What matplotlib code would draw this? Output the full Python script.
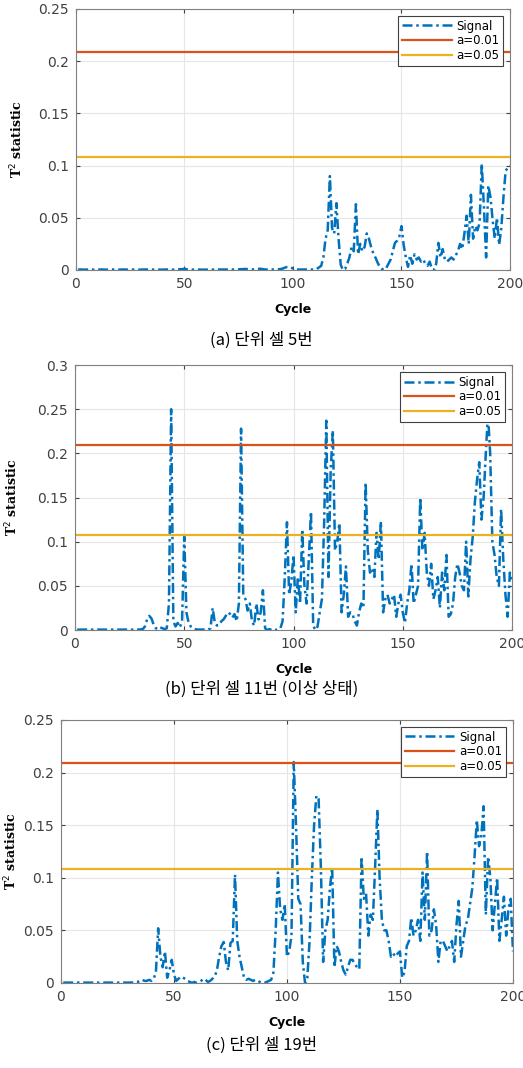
import numpy as np
import matplotlib
matplotlib.use('Agg')
from matplotlib import pyplot as plt
from matplotlib.ticker import FuncFormatter

plt.rcParams['font.family'] = ['DejaVu Sans']

cycles = np.arange(1, 201)

# panel (a) - unit cell 5
t2_a = [
    0.0004, 0.0005, 0.0004, 0.0003, 0.0004, 0.0005, 0.0004, 0.0004, 0.0003, 0.0004,
    0.0004, 0.0005, 0.0004, 0.0003, 0.0004, 0.0004, 0.0005, 0.0004, 0.0003, 0.0004,
    0.0004, 0.0005, 0.0004, 0.0003, 0.0004, 0.0004, 0.0005, 0.0004, 0.0003, 0.0004,
    0.0004, 0.0005, 0.0004, 0.0003, 0.0004, 0.0004, 0.0005, 0.0004, 0.0003, 0.0004,
    0.0004, 0.0005, 0.0004, 0.0003, 0.0004, 0.0004, 0.0005, 0.0006, 0.0008, 0.0012,
    0.0006, 0.0004, 0.0003, 0.0004, 0.0004, 0.0005, 0.0004, 0.0003, 0.0004, 0.0004,
    0.0004, 0.0005, 0.0004, 0.0003, 0.0004, 0.0004, 0.0005, 0.0004, 0.0003, 0.0004,
    0.0004, 0.0005, 0.0004, 0.0005, 0.0006, 0.0007, 0.0008, 0.0010, 0.0008, 0.0006,
    0.0005, 0.0006, 0.0008, 0.0010, 0.0012, 0.0008, 0.0005, 0.0004, 0.0004, 0.0005,
    0.0004, 0.0005, 0.0006, 0.0008, 0.0012, 0.0020, 0.0028, 0.0030, 0.0024, 0.0015,
    0.0008, 0.0005, 0.0004, 0.0004, 0.0005, 0.0004, 0.0004, 0.0005, 0.0004, 0.0006,
    0.0010, 0.0025, 0.004, 0.012, 0.030, 0.038, 0.090, 0.040, 0.035, 0.064,
    0.030, 0.005, 0.000, 0.001, 0.006, 0.012, 0.022, 0.018, 0.063, 0.015,
    0.025, 0.018, 0.022, 0.035, 0.030, 0.022, 0.016, 0.012, 0.007, 0.003,
    0.001, 0.000, 0.002, 0.006, 0.010, 0.018, 0.026, 0.028, 0.032, 0.042,
    0.024, 0.012, 0.003, 0.014, 0.006, 0.015, 0.010, 0.012, 0.008, 0.010,
    0.006, 0.004, 0.008, 0.001, 0.000, 0.006, 0.026, 0.012, 0.020, 0.010,
    0.008, 0.010, 0.012, 0.010, 0.014, 0.018, 0.025, 0.020, 0.035, 0.052,
    0.025, 0.072, 0.030, 0.042, 0.038, 0.045, 0.102, 0.060, 0.012, 0.081,
    0.070, 0.048, 0.030, 0.050, 0.024, 0.040, 0.070, 0.095, 0.098, 0.100,
]

# panel (b) - unit cell 11 (abnormal)
t2_b = [
    0.0005, 0.0004, 0.0005, 0.0004, 0.0005, 0.0004, 0.0005, 0.0004, 0.0005, 0.0004,
    0.0005, 0.0004, 0.0005, 0.0004, 0.0005, 0.0004, 0.0005, 0.0004, 0.0005, 0.0004,
    0.0005, 0.0004, 0.0005, 0.0004, 0.0005, 0.0004, 0.0005, 0.0004, 0.0005, 0.0006,
    0.001, 0.004, 0.012, 0.016, 0.013, 0.006, 0.002, 0.001, 0.003, 0.002,
    0.001, 0.002, 0.030, 0.250, 0.010, 0.004, 0.008, 0.003, 0.010, 0.106,
    0.020, 0.008, 0.004, 0.002, 0.001, 0.0005, 0.0005, 0.0005, 0.0005, 0.0005,
    0.0005, 0.002, 0.025, 0.008, 0.005, 0.006, 0.010, 0.012, 0.016, 0.020,
    0.018, 0.014, 0.018, 0.010, 0.030, 0.228, 0.040, 0.035, 0.022, 0.030,
    0.010, 0.005, 0.030, 0.012, 0.020, 0.045, 0.002, 0.000, 0.001, 0.000,
    0.001, 0.000, 0.001, 0.002, 0.010, 0.060, 0.122, 0.040, 0.055, 0.085,
    0.020, 0.060, 0.030, 0.114, 0.050, 0.030, 0.080, 0.134, 0.005, 0.000,
    0.004, 0.020, 0.035, 0.120, 0.237, 0.060, 0.180, 0.226, 0.090, 0.100,
    0.121, 0.020, 0.040, 0.072, 0.015, 0.020, 0.018, 0.010, 0.005, 0.020,
    0.030, 0.025, 0.167, 0.090, 0.065, 0.070, 0.060, 0.110, 0.080, 0.123,
    0.020, 0.035, 0.040, 0.030, 0.035, 0.040, 0.015, 0.030, 0.040, 0.020,
    0.008, 0.030, 0.045, 0.075, 0.030, 0.040, 0.050, 0.150, 0.090, 0.110,
    0.065, 0.050, 0.075, 0.035, 0.045, 0.060, 0.025, 0.065, 0.045, 0.085,
    0.015, 0.018, 0.030, 0.060, 0.075, 0.065, 0.050, 0.045, 0.100, 0.038,
    0.080, 0.105, 0.145, 0.170, 0.190, 0.125, 0.150, 0.200, 0.245, 0.200,
    0.100, 0.085, 0.060, 0.050, 0.137, 0.080, 0.040, 0.015, 0.065, 0.055,
]

# panel (c) - unit cell 19
t2_c = [
    0.0003, 0.0004, 0.0003, 0.0004, 0.0003, 0.0004, 0.0003, 0.0004, 0.0003, 0.0004,
    0.0003, 0.0004, 0.0003, 0.0004, 0.0003, 0.0004, 0.0003, 0.0004, 0.0003, 0.0004,
    0.0003, 0.0004, 0.0003, 0.0004, 0.0003, 0.0004, 0.0003, 0.0004, 0.0003, 0.0004,
    0.0005, 0.0005, 0.001, 0.001, 0.002, 0.003, 0.002, 0.002, 0.003, 0.002,
    0.004, 0.010, 0.052, 0.025, 0.015, 0.030, 0.005, 0.012, 0.022, 0.008,
    0.002, 0.004, 0.006, 0.005, 0.004, 0.002, 0.001, 0.000, 0.001, 0.000,
    0.001, 0.002, 0.004, 0.003, 0.001, 0.002, 0.004, 0.006, 0.012, 0.025,
    0.035, 0.039, 0.020, 0.012, 0.038, 0.040, 0.103, 0.040, 0.025, 0.015,
    0.005, 0.003, 0.004, 0.003, 0.002, 0.003, 0.002, 0.001, 0.000, 0.000,
    0.001, 0.002, 0.003, 0.010, 0.050, 0.105, 0.070, 0.060, 0.075, 0.025,
    0.030, 0.045, 0.210, 0.150, 0.080, 0.075, 0.020, 0.000, 0.005, 0.040,
    0.100, 0.150, 0.178, 0.175, 0.110, 0.020, 0.050, 0.060, 0.090, 0.110,
    0.015, 0.035, 0.030, 0.020, 0.012, 0.008, 0.015, 0.022, 0.022, 0.018,
    0.015, 0.013, 0.120, 0.080, 0.085, 0.045, 0.065, 0.060, 0.110, 0.165,
    0.100, 0.060, 0.050, 0.050, 0.040, 0.025, 0.028, 0.025, 0.028, 0.030,
    0.005, 0.010, 0.035, 0.040, 0.062, 0.045, 0.050, 0.060, 0.040, 0.105,
    0.060, 0.125, 0.045, 0.050, 0.070, 0.055, 0.020, 0.040, 0.040, 0.035,
    0.030, 0.035, 0.040, 0.020, 0.055, 0.078, 0.025, 0.040, 0.055, 0.060,
    0.075, 0.090, 0.120, 0.155, 0.130, 0.140, 0.168, 0.065, 0.120, 0.100,
    0.050, 0.075, 0.100, 0.040, 0.060, 0.082, 0.045, 0.070, 0.080, 0.030,
]

limit_01 = 0.209
limit_05 = 0.108

panels = [
    (t2_a, 0.25, np.arange(0, 0.26, 0.05), '(a) 단위 셀 5번'),
    (t2_b, 0.30, np.arange(0, 0.31, 0.05), '(b) 단위 셀 11번 (이상 상태)'),
    (t2_c, 0.25, np.arange(0, 0.26, 0.05), '(c) 단위 셀 19번'),
]
# axes rectangles (fig fraction), caption y, ylabel x (axes coords)
rects = [[0.1453, 0.7472, 0.8298, 0.2444],
         [0.1434, 0.4101, 0.8356, 0.2481],
         [0.1166, 0.0796, 0.8642, 0.2463]]
cap_y = [0.6810, 0.3545, 0.0215]
ylab_x = [-0.117, -0.126, -0.093]

blue = '#0072BD'
red = '#D95319'
yellow = '#EDB120'

fig = plt.figure(figsize=(5.23, 10.68), dpi=100)
for (vals, ymax, yt, cap), r, cy, lx in zip(panels, rects, cap_y, ylab_x):
    ax = fig.add_axes(r)
    ax.plot(cycles, vals, color=blue, lw=1.8, dashes=[4, 1.5, 1, 1.5], label='Signal')
    ax.plot([1, 200], [limit_01, limit_01], color=red, lw=1.6, label='a=0.01')
    ax.plot([1, 200], [limit_05, limit_05], color=yellow, lw=1.6, label='a=0.05')
    ax.set_xlim(0, 200)
    ax.set_ylim(0, ymax)
    ax.set_xticks([0, 50, 100, 150, 200])
    ax.set_yticks(yt)
    ax.yaxis.set_major_formatter(FuncFormatter(lambda v, p: '%g' % round(v, 3)))
    ax.grid(True, color='#e6e6e6', lw=0.8)
    ax.set_axisbelow(True)
    ax.tick_params(direction='in', top=True, right=True, labelsize=10,
                   labelcolor='#404040', color='#404040', length=3, pad=5)
    for s in ax.spines.values():
        s.set_color('#808080')
        s.set_linewidth(0.8)
    ax.set_xlabel('Cycle', fontsize=9, fontweight='bold', labelpad=9)
    ax.set_ylabel('T$^2$ statistic', fontsize=9, fontweight='bold',
                  family='DejaVu Serif')
    ax.yaxis.set_label_coords(lx, 0.5)
    leg = ax.legend(loc='upper right', fontsize=8.5, fancybox=False,
                    edgecolor='#404040', framealpha=1, handlelength=4.2,
                    borderpad=0.3, labelspacing=0.15, handletextpad=0.4,
                    borderaxespad=0.6)
    leg.get_frame().set_linewidth(0.8)
    fig.text(0.5, cy, cap, ha='center', va='center', fontsize=12,
             family=['Noto Sans CJK KR', 'DejaVu Sans'])

fig.savefig('out.png', dpi=100)
